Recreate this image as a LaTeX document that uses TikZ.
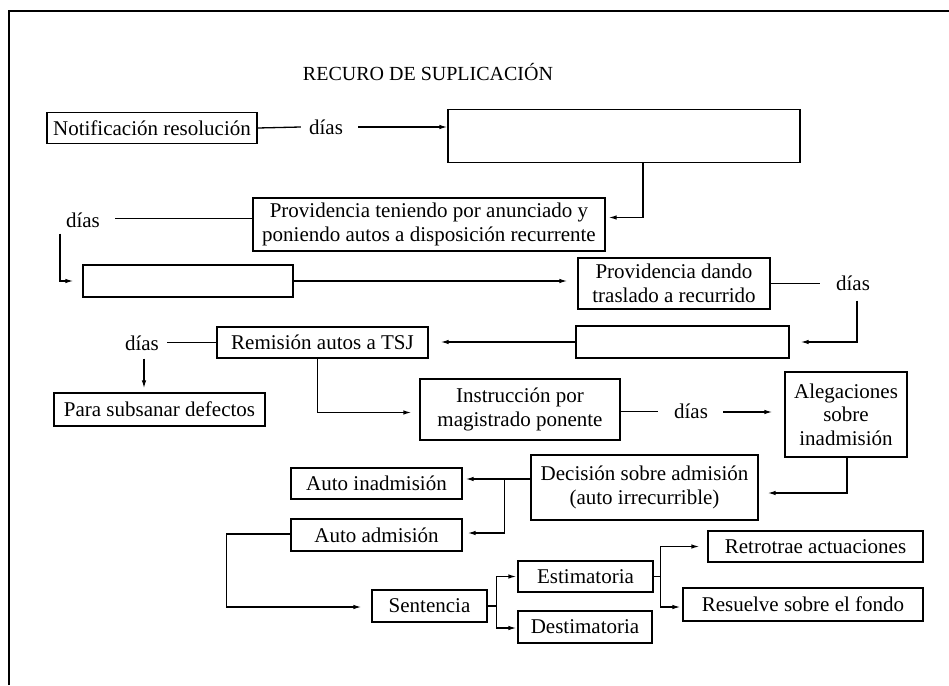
\documentclass[tikz,border=0pt]{standalone}
\usepackage{fontspec}
\setmainfont{Liberation Serif}
\usetikzlibrary{arrows.meta}
\begin{document}
\begin{tikzpicture}[x=1pt,y=-1pt,
  every node/.style={font=\fontsize{21}{23.5}\selectfont},
  box/.style={draw,line width=1.3pt,inner sep=0pt,align=center},
  lbl/.style={inner sep=0pt},
  ln/.style={line width=1.3pt},
  arr/.style={line width=1.3pt,-{Latex[length=8pt,width=4.5pt]}}]
\useasboundingbox (0,0) rectangle (949,685);
\draw[line width=1.4pt] (9,685) -- (9,11) -- (949,11);
\node[lbl,font=\fontsize{20}{23.5}\selectfont] (title) at (428,72) {RECURO DE SUPLICACIÓN};
% nodes
\node[box,minimum width=210pt,minimum height=31pt] (notif) at (152,128) {Notificación resolución};
\node[lbl] (d1) at (326,127) {días};
\node[box,minimum width=352pt,minimum height=53pt] (e1) at (624,136) {};
\node[box,minimum width=352pt,minimum height=53pt] (prov1) at (429,224.5) {Providencia teniendo por anunciado y\\poniendo autos a disposición recurrente};
\node[lbl] (d2) at (83,220) {días};
\node[box,minimum width=210pt,minimum height=32pt] (e2) at (188,281) {};
\node[box,minimum width=192pt,minimum height=51pt] (prov2) at (674,283.5) {Providencia dando\\traslado a recurrido};
\node[lbl] (d3) at (853,283) {días};
\node[box,minimum width=213pt,minimum height=32pt] (e3) at (682.5,342) {};
\node[box,minimum width=211pt,minimum height=31pt] (remis) at (322.5,342.5) {Remisión autos a TSJ};
\node[lbl] (d4) at (142,343) {días};
\node[box,minimum width=211pt,minimum height=33pt] (sub) at (159.5,409.5) {Para subsanar defectos};
\node[box,minimum width=200pt,minimum height=61pt] (instr) at (520,409.5) {Instrucción por\\magistrado ponente};
\node[lbl] (d5) at (691,411) {días};
\node[box,minimum width=122pt,minimum height=85pt] (aleg) at (846,414.5) {Alegaciones\\sobre\\inadmisión};
\node[box,minimum width=227pt,minimum height=65pt] (decis) at (644.5,487.5) {Decisión sobre admisión\\(auto irrecurrible)};
\node[box,minimum width=171pt,minimum height=31pt] (ainad) at (376.5,483.5) {Auto inadmisión};
\node[box,minimum width=171pt,minimum height=32pt] (aadm) at (376.5,535) {Auto admisión};
\node[box,minimum width=115pt,minimum height=32pt] (sent) at (429.5,606) {Sentencia};
\node[box,minimum width=135pt,minimum height=31pt] (estim) at (585.5,576.5) {Estimatoria};
\node[box,minimum width=134pt,minimum height=32pt] (destim) at (585,627) {Destimatoria};
\node[box,minimum width=215pt,minimum height=31pt] (retro) at (815.5,546.5) {Retrotrae actuaciones};
\node[box,minimum width=240pt,minimum height=33pt] (resuel) at (803,604.5) {Resuelve sobre el fondo};
% connectors
\draw[ln] (notif.east) -- ([xshift=-8pt]d1.west);
\draw[arr] ([xshift=15pt]d1.east) -- (d1.east -| e1.west);
\draw[arr] ([xshift=19pt]e1.south) |- ([xshift=3pt,yshift=7pt]prov1.east);
\draw[ln] ([yshift=6pt]prov1.west) -- ([xshift=15pt,yshift=6pt]prov1.west -| d2.east);
\coordinate (c2) at ([xshift=-23pt,yshift=-6pt]d2.south);
\draw[arr] (c2) |- ([xshift=-9pt]e2.west);
\draw[arr] (e2.east) -- ([xshift=-10pt]e2.east -| prov2.west);
\draw[ln] (prov2.east) -- ([xshift=-16pt]prov2.east -| d3.west);
\draw[arr] ([xshift=4pt,yshift=-10pt]d3.south) |- ([xshift=11pt]e3.east);
\draw[arr] (e3.west) -- ([xshift=12pt]e3.west -| remis.east);
\draw[ln] (remis.west) -- ([xshift=8pt]remis.west -| d4.east);
\draw[arr] ([xshift=2pt,yshift=-8pt]d4.south) -- ([xshift=2pt,yshift=4pt]d4.south |- sub.north);
\draw[arr] ([xshift=-5pt]remis.south) |- ([xshift=-8pt,yshift=-3pt]instr.west);
\coordinate (i1) at ([yshift=-2pt]instr.east);
\draw[ln] (i1) -- ([xshift=-16pt]i1 -| d5.west);
\draw[arr] ([xshift=15pt,yshift=-1pt]d5.east) -- ([xshift=-12pt,yshift=-1pt]d5.east -| aleg.west);
\draw[arr] ([xshift=1pt]aleg.south) |- ([xshift=9pt,yshift=-5.5pt]decis.east);
\draw[arr] ([yshift=8.5pt]decis.west) -- ([yshift=8.5pt,xshift=3pt]decis.west -| ainad.east);
\coordinate (b1) at ([yshift=8.5pt,xshift=-26pt]decis.west);
\draw[arr] (b1) |- ([xshift=5pt,yshift=2pt]aadm.east);
\draw[arr] ([yshift=1pt]aadm.west) -- ++(-64,0) |- ([xshift=-10pt,yshift=-1pt]sent.west);
\draw[ln] (sent.east) -- ++(9,0) coordinate (s1);
\draw[arr] (s1) |- ([xshift=-1pt]estim.west);
\draw[arr] (s1) |- ([xshift=-1pt,yshift=-1pt]destim.west);
\draw[ln] (estim.east) -- ++(7,0) coordinate (s2);
\draw[arr] (s2) |- ([xshift=-8pt]retro.west);
\draw[arr] (s2) |- ([xshift=-2pt,yshift=-2.5pt]resuel.west);
\end{tikzpicture}
\end{document}
